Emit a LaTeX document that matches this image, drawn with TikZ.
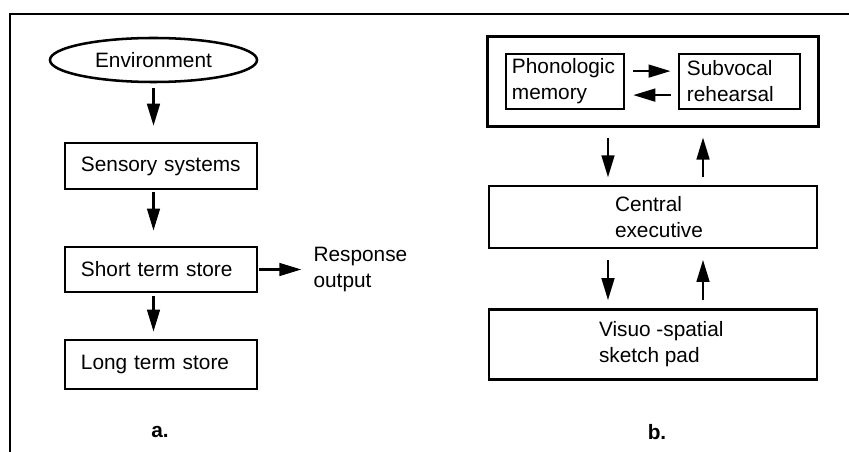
\documentclass[tikz,border=0pt]{standalone}
\usepackage{fontspec}
\setmainfont{Liberation Sans}
\usetikzlibrary{arrows.meta,positioning,shapes.geometric,fit}

\newcommand\modelfont{\fontsize{14.8}{18.5}\selectfont}

\tikzset{
	box/.style={draw, line width=1.8pt, inner sep=0pt},
	flow/.style={-{Triangle[length=0.55cm,width=0.32cm]}, line width=1.5pt, shorten <=0.1cm, shorten >=0.3cm},
	caption/.style={font=\modelfont\bfseries}
}

\begin{document}
\begin{tikzpicture}[x=0.025cm, y=-0.025cm, font=\modelfont]
	\useasboundingbox (0,0) rectangle (849,452);
	\draw[line width=1.8pt] (849,14) -- (10,14) -- (10,452);

	% a. stage model
	\node[box, ellipse, minimum width=5.175cm, minimum height=1.1cm] (env) at (153.5,60) {Environment};
	\node[box, text width=4cm, minimum width=4.8cm, minimum height=1.15cm, align=left] (sens) at (161,166) {Sensory systems};
	\node[box, text width=4cm, minimum width=4.8cm, minimum height=1.125cm, align=left] (sts) at (161,269.5) {Short term store};
	\node[box, text width=4cm, minimum width=4.8cm, minimum height=1.225cm, align=left] (lts) at (161,364.5) {Long term store};
	\node[inner sep=0pt, align=left, right=1.375cm of sts] (resp) {Response\\output};

	\draw[flow, shorten <=0.12cm, shorten >=0.4cm] (env.south) -- (sens.north -| env.south);
	\draw[flow, shorten <=0.05cm, shorten >=0.38cm] (sens.south -| env.south) -- (sts.north -| env.south);
	\draw[flow, shorten <=0.08cm, shorten >=0.18cm] (sts.south -| env.south) -- (lts.north -| env.south);
	\draw[flow, shorten <=0.03cm] (sts.east) -- (resp.west);

	\node[caption] (capa) at (160,432) {a.};

	% b. working memory
	\node[box, text width=2.65cm, inner xsep=0.15cm, minimum height=1.375cm, align=left] (phon) at (565,81.5) {Phonologic\\memory};
	\node[box, text width=2.625cm, inner xsep=0.2cm, minimum height=1.375cm, align=left] (subv) at (739.5,81.5) {Subvocal\\rehearsal};
	\node[box, fit=(phon)(subv), inner xsep=0.425cm, inner ysep=0.4cm] (loop) {};
	\node[box, minimum width=8.2cm, minimum height=1.55cm, below=1.425cm of loop] (exec) {};
	\node[box, minimum width=8.2cm, minimum height=1.75cm, below=1.475cm of exec] (pad) {};
	\node[inner sep=0pt, align=left, right=3.175cm of exec.west] (exec-text) {Central\\executive};
	\node[inner sep=0pt, align=left, right=2.775cm of pad.west] (pad-text) {Visuo -spatial\\sketch pad};

	\draw[flow, shorten <=0.2cm, shorten >=0.18cm] ([yshift=0.26cm]phon.east) -- ([yshift=0.26cm]subv.west);
	\draw[flow, shorten <=0.18cm, shorten >=0.2cm] ([yshift=-0.34cm]subv.west) -- ([yshift=-0.34cm]phon.east);
	\draw[flow, shorten <=0.25cm, shorten >=0.18cm] ([xshift=-1.125cm]loop.south) -- ([xshift=-1.125cm]exec.north);
	\draw[flow, shorten <=0.18cm, shorten >=0.25cm] ([xshift=1.25cm]exec.north) -- ([xshift=1.25cm]loop.south);
	\draw[flow, shorten <=0.27cm, shorten >=0.2cm] ([xshift=-1.125cm]exec.south) -- ([xshift=-1.125cm]pad.north);
	\draw[flow, shorten <=0.2cm, shorten >=0.27cm] ([xshift=1.25cm]pad.north) -- ([xshift=1.25cm]exec.south);

	\node[caption] (capb) at (657,432) {b.};
\end{tikzpicture}
\end{document}
